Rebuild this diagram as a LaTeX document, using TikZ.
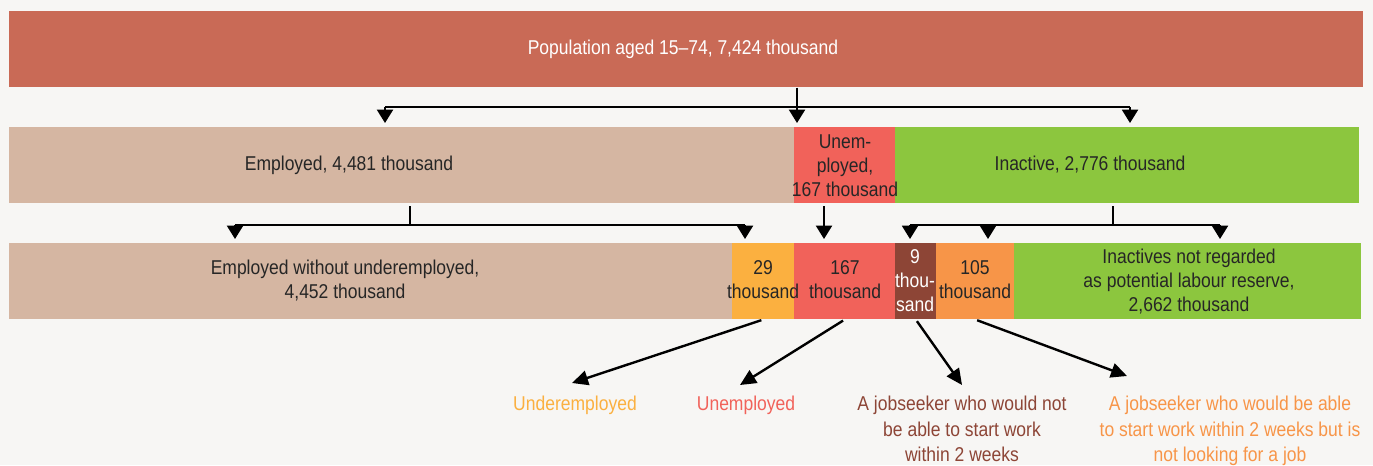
\documentclass[tikz,border=0pt]{standalone}
\usepackage{fontspec}
\setmainfont{Liberation Sans}[FakeStretch=0.875]
\usetikzlibrary{arrows.meta,calc}

\definecolor{bggrey}{HTML}{F7F6F4}
\definecolor{popred}{HTML}{C96A56}
\definecolor{empbeige}{HTML}{D5B6A2}
\definecolor{unemred}{HTML}{F1625A}
\definecolor{inacgreen}{HTML}{8CC63E}
\definecolor{underyel}{HTML}{FBB040}
\definecolor{jsbrown}{HTML}{8D4536}
\definecolor{jsorange}{HTML}{F79548}
\definecolor{txtgrey}{HTML}{262626}

\begin{document}
\begin{tikzpicture}[
    x=0.75pt, y=-0.75pt,
    box/.style={rectangle, anchor=north west, inner sep=0pt, minimum height=76*0.75pt},
    txt/.style={align=center, text=txtgrey, inner sep=0pt, font=\fontsize{15}{18}\selectfont},
    note/.style={align=center, anchor=north, inner sep=0pt, font=\fontsize{15}{19}\selectfont},
    tree/.style={draw, line width=1.5pt},
    line/.style={draw, line width=1.5pt, -{Triangle[width=12pt,length=10pt]}, shorten >=3pt},
    pointer/.style={draw, line width=1.8pt, -{Triangle[width=11pt,length=12pt]}, shorten <=1.5pt}
]
    \fill[bggrey] (0,0) rectangle (1373,465);
    \useasboundingbox (0,0) rectangle (1373,465);

    % Population block
    \node[box, fill=popred, minimum width=1354*0.75pt] (pop) at (9,11) {};
    \node[txt, text=white] (pop-t) at (683,49) {Population aged 15–74, 7,424 thousand};

    % Second row
    \foreach \nm/\xx/\ww/\col in {emp/9/785/empbeige, unem/794/101/unemred, inac/895/464/inacgreen} {
        \node[box, fill=\col, minimum width=\ww*0.75pt] (\nm) at (\xx,127) {};
    }
    \node[txt] (emp-t) at (349,165) {Employed, 4,481 thousand};
    \node[txt] (unem-t) at (845,166) {Unem-\\ployed,\\167 thousand};
    \node[txt] (inac-t) at (1090,165) {Inactive, 2,776 thousand};

    % Third row
    \foreach \nm/\xx/\ww/\col in {empw/9/723/empbeige, u29/732/62/underyel, u167/794/101/unemred,
                                  js9/895/41/jsbrown, js105/936/78/jsorange, inacn/1014/347/inacgreen} {
        \node[box, fill=\col, minimum width=\ww*0.75pt] (\nm) at (\xx,243) {};
    }
    \node[txt] (empw-t) at (345,281) {Employed without underemployed,\\4,452 thousand};
    \node[txt] (u29-t) at (763,280) {29\\thousand};
    \node[txt] (u167-t) at (845,280) {167\\thousand};
    \node[txt, text=white] (js9-t) at (915,281) {9\\thou-\\sand};
    \node[txt] (js105-t) at (975,280) {105\\thousand};
    \node[txt] (inacn-t) at (1189,282) {Inactives not regarded\\as potential labour reserve,\\2,662 thousand};

    % Explanations
    \node[note, text=underyel] (u29-n) at (575,396) {Underemployed};
    \node[note, text=unemred] (u167-n) at (746,396) {Unemployed};
    \node[note, text=jsbrown] (js9-n) at (962,396) {A jobseeker who would not\\be able to start work\\within 2 weeks};
    \node[note, text=jsorange] (js105-n) at (1230,396) {A jobseeker who would be able\\to start work within 2 weeks but is\\not looking for a job};

    % Population split
    \coordinate (popsplit) at (797,107);
    \draw[line] (popsplit |- pop.south) -- (popsplit |- unem.north);
    \draw[tree] (385,107) coordinate (b-emp) -- (1130,107) coordinate (b-inac);
    \foreach \nm in {emp, inac} {
        \draw[line] (b-\nm) -- (b-\nm |- \nm.north);
    }

    % Employed split
    \coordinate (empsplit) at (410,225);
    \draw[tree, shorten <=2pt] (empsplit |- emp.south) -- (empsplit);
    \draw[tree] (235,225) -- (745,225);
    \foreach \nm/\xx in {empw/235, u29/745} {
        \coordinate (b-\nm) at (\xx,225);
        \draw[line] (b-\nm) -- (b-\nm |- \nm.north);
    }

    % Unemployed
    \coordinate (unemdrop) at (824,225);
    \draw[line, shorten <=2pt] (unemdrop |- unem.south) -- (unemdrop |- u167.north);

    % Inactive split
    \coordinate (inacsplit) at (1113,225);
    \draw[tree, shorten <=2pt] (inacsplit |- inac.south) -- (inacsplit);
    \draw[tree] (910,225) -- (1220,225);
    \foreach \nm/\xx in {js9/910, js105/988, inacn/1220} {
        \coordinate (b-\nm) at (\xx,225);
        \draw[line] (b-\nm) -- (b-\nm |- \nm.north);
    }

    % Pointers to explanations
    \foreach \nm/\xx/\yy in {u29/572/383, u167/740/385, js9/962/385, js105/1127/376} {
        \coordinate (tip-\nm) at (\xx,\yy);
        \draw[pointer] (\nm.south) -- (tip-\nm);
    }

\end{tikzpicture}
\end{document}
